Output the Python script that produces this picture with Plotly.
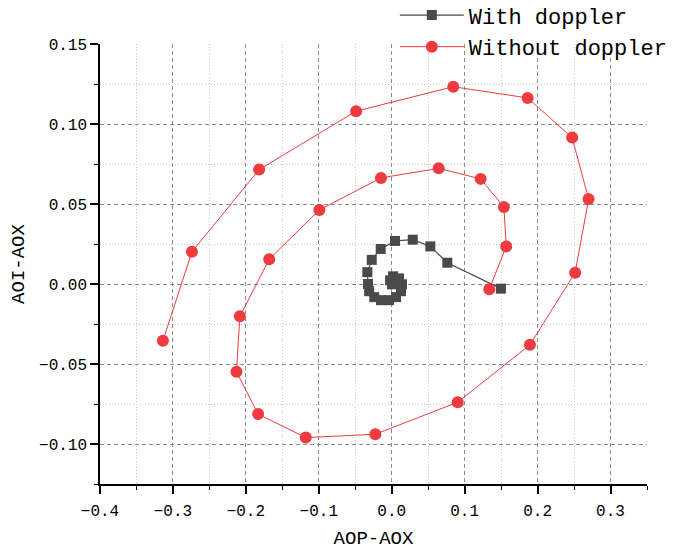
import plotly.graph_objects as go

# With doppler (gray squares), spiralling inward
with_x = [0.1497, 0.0762, 0.0529, 0.0288, 0.0045, -0.0151, -0.0274, -0.0334, -0.0325,
          -0.0310, -0.0240, -0.0147, -0.0037, 0.0059, 0.0127, 0.0141, 0.0100, 0.0018,
          -0.0023, 0.0004]
with_y = [-0.0029, 0.0133, 0.0235, 0.0277, 0.0269, 0.0219, 0.0151, 0.0074, 0.0000,
          -0.0045, -0.0082, -0.0101, -0.0101, -0.0082, -0.0045, -0.0002, 0.0035, 0.0048,
          0.0023, -0.0002]

# Without doppler (red circles), spiralling outward
without_x = [0.1337, 0.1570, 0.1538, 0.1219, 0.0644, -0.0147, -0.0992, -0.1680, -0.2082,
             -0.2129, -0.1832, -0.1178, -0.0225, 0.0904, 0.1895, 0.2515, 0.2699, 0.2474,
             0.1863, 0.0844, -0.0489, -0.1818, -0.2740, -0.3137]
without_y = [-0.0033, 0.0235, 0.0481, 0.0657, 0.0723, 0.0663, 0.0463, 0.0155, -0.0202,
             -0.0549, -0.0813, -0.0960, -0.0939, -0.0739, -0.0380, 0.0071, 0.0531, 0.0915,
             0.1163, 0.1233, 0.1080, 0.0715, 0.0201, -0.0355]

FONT = "Liberation Mono"
GRAY = "#4a4a4a"
RED = "#ef3b3f"

fig = go.Figure()
fig.add_trace(go.Scatter(
    x=with_x, y=with_y, mode="lines+markers", name="With doppler",
    line=dict(color=GRAY, width=1.2),
    marker=dict(symbol="square", size=10, color=GRAY),
))
fig.add_trace(go.Scatter(
    x=without_x, y=without_y, mode="lines+markers", name="Without doppler",
    line=dict(color=RED, width=1),
    marker=dict(symbol="circle", size=12, color=RED),
))

axis_common = dict(
    showline=True, linecolor="black", linewidth=1.5, mirror=False,
    ticks="outside", ticklen=8, tickwidth=1.5, tickcolor="black",
    showgrid=True, gridcolor="#8c8c8c", griddash="4px,3px", gridwidth=1,
    zeroline=False,
    tickfont=dict(family=FONT, size=16, color="black"),
    tick0=0,
)
minor_grid = dict(ticks="outside", ticklen=4, tickcolor="black", tickwidth=1.2,
                  showgrid=True, gridcolor="#c8c8c8", griddash="1px,2px", gridwidth=1)

fig.update_xaxes(
    **axis_common,
    range=[-0.4, 0.35], dtick=0.1, tickformat=".1f",
    ticklabelstandoff=3,
    minor=dict(dtick=0.05, **minor_grid),
    title=dict(text="AOP-AOX", font=dict(family=FONT, size=19, color="black"), standoff=14),
)
fig.update_yaxes(
    **axis_common,
    range=[-0.125, 0.15], dtick=0.05, tickformat=".2f",
    minor=dict(dtick=0.025, **minor_grid),
    title=dict(text="AOI-AOX", font=dict(family=FONT, size=19, color="black"), standoff=9),
)

fig.update_layout(
    width=692, height=550,
    margin=dict(l=100, r=45, t=44, b=66, autoexpand=False),
    plot_bgcolor="white", paper_bgcolor="white",
    legend=dict(
        x=0.539, y=1.113, xanchor="left", yanchor="top",
        font=dict(family=FONT, size=22, color="black"),
        bgcolor="rgba(0,0,0,0)", itemwidth=64, tracegroupgap=0,
    ),
    showlegend=True,
)

fig.write_html("out.html")
